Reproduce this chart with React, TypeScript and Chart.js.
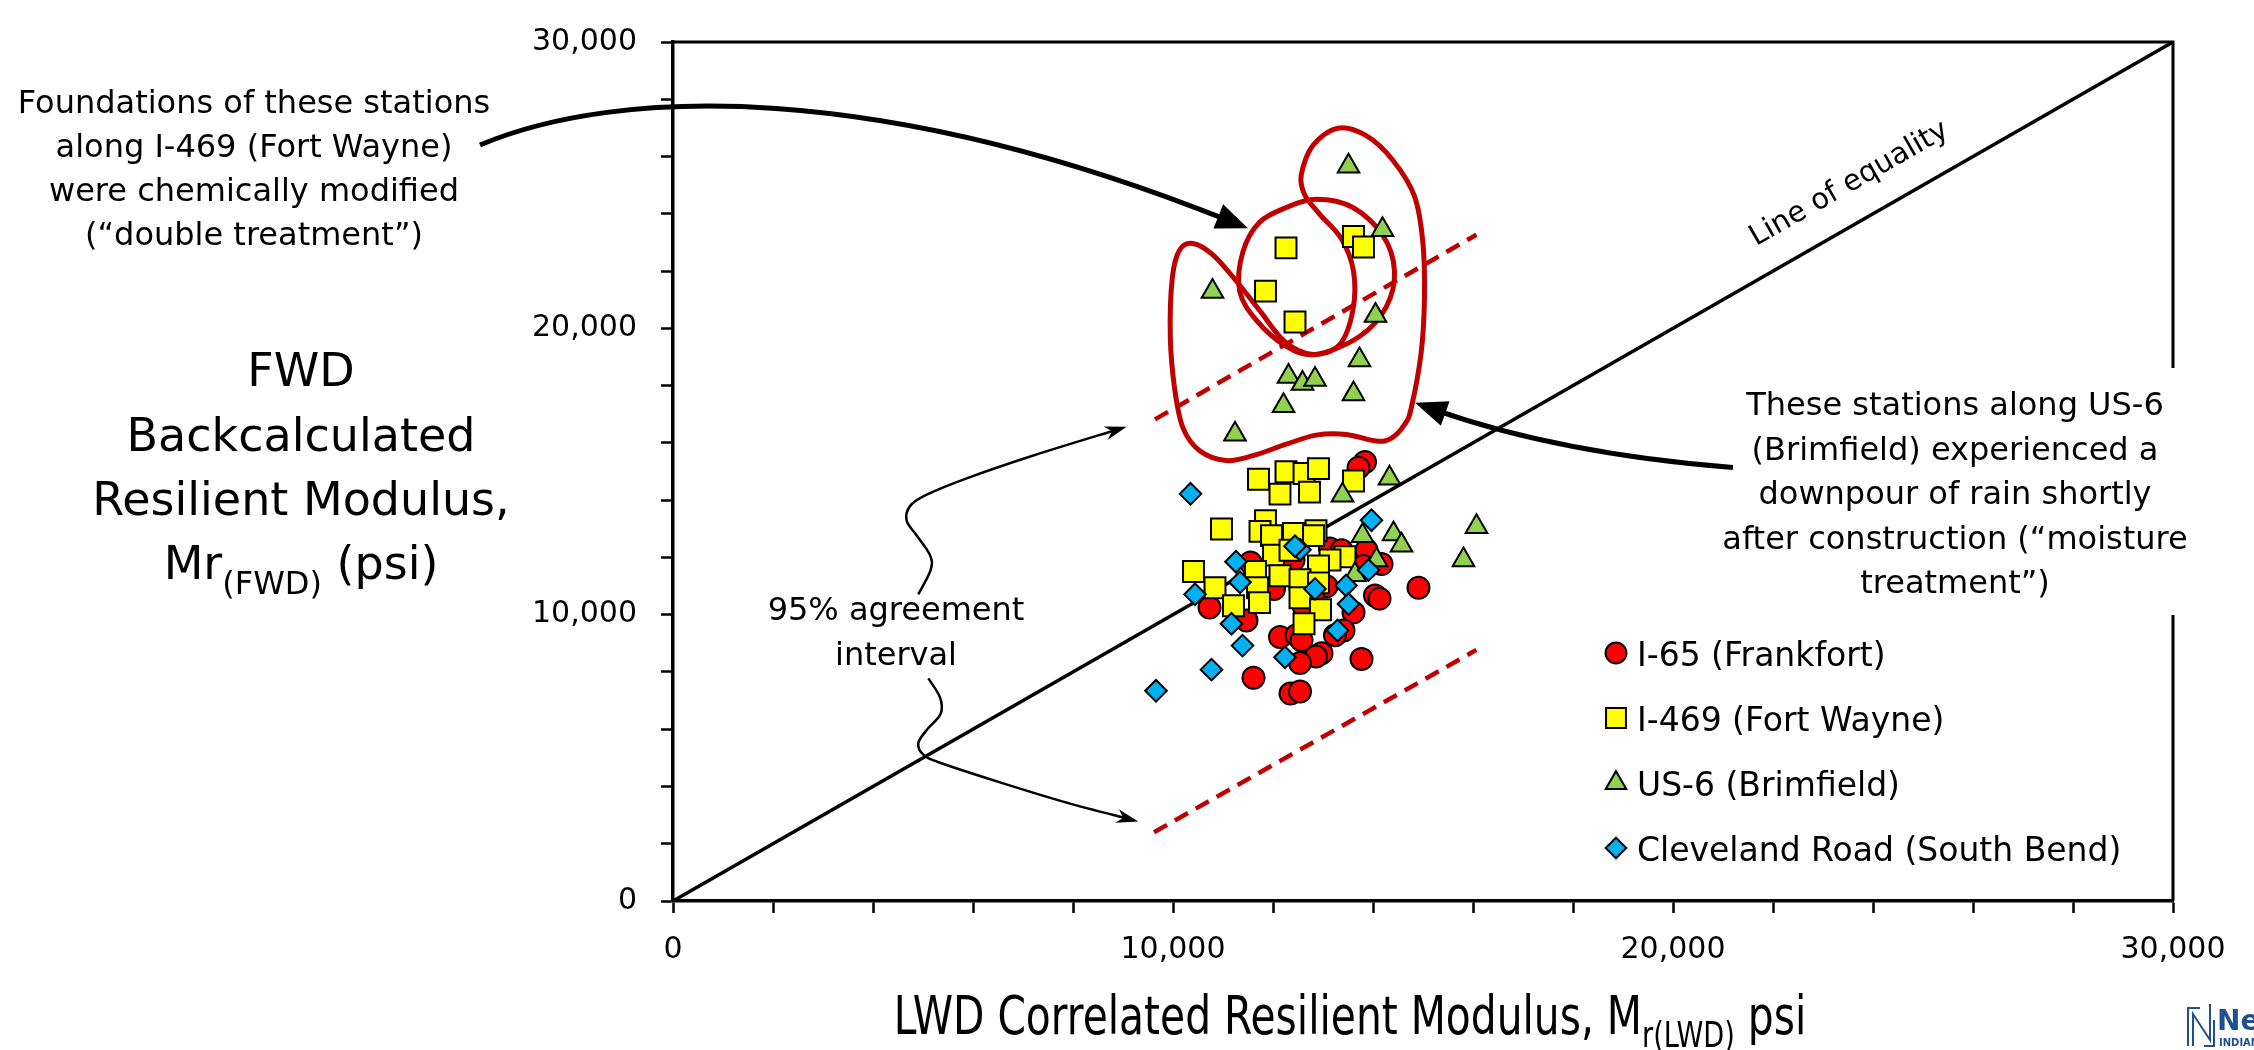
import React, { useEffect, useRef } from 'react';
import { Chart, registerables } from 'chart.js';

Chart.register(...registerables);

const W = 2254;
const H = 1050;
const FONT = '"DejaVu Sans", Verdana, sans-serif';

// ---------------- data (LWD x, FWD y) in psi ----------------
const i65Frankfort: [number, number][] = [
  [13840, 15330], [13710, 15130], [14910, 10940], [14040, 10670], [14130, 10560], [13610, 10080],
  [13410, 9450], [13240, 9280], [12140, 9220], [12470, 9280], [12570, 9110], [12970, 8650],
  [12860, 8540], [12540, 8310], [13770, 8450], [11610, 7800], [12350, 7250], [12540, 7320],
  [10730, 10250], [11470, 9800], [11550, 11820], [12020, 10900], [13070, 10990], [13140, 12310],
  [13370, 12250], [13870, 12250], [14170, 11770], [13810, 11700], [12610, 10310], [12410, 11910],
  [12810, 10770],
];

const i469FortWayne: [number, number][] = [
  [11710, 14730], [12260, 14990], [12620, 14930], [12910, 15100], [12140, 14210], [12730, 14280],
  [13610, 14670], [10970, 12990], [11850, 13280], [11740, 12910], [11970, 12760], [12410, 12840],
  [12860, 12930], [12810, 12760], [12010, 12080], [12340, 12250], [13440, 12020], [13140, 11910],
  [12910, 11700], [10410, 11510], [11650, 11510], [12140, 11360], [12540, 11220], [12910, 11110],
  [10840, 10940], [11690, 10940], [12540, 10590], [11730, 10420], [11210, 10310], [12950, 10170],
  [12620, 9680],
  [12260, 22810], [11850, 21300], [12440, 20220], [13610, 23210], [13810, 22840],
];

const us6Brimfield: [number, number][] = [
  [11240, 16300], [14330, 14760], [13390, 14170], [16070, 13070], [13790, 12760], [14410, 12820],
  [14570, 12420], [14070, 11910], [15810, 11910], [13640, 11390],
  [13510, 25660], [14190, 23440], [10790, 21290], [14050, 20450], [13730, 18890], [12310, 18320],
  [12590, 18070], [12840, 18210], [13610, 17710], [12210, 17300],
];

const clevelandRoad: [number, number][] = [
  [10350, 14220], [13970, 13300], [12540, 12270], [12440, 12390], [11260, 11850], [11340, 11130],
  [13910, 11560], [10440, 10710], [12840, 10900], [13460, 11020], [13510, 10370], [11170, 9680],
  [13290, 9450], [11390, 8920], [12240, 8510], [10770, 8080], [9660, 7340],
];

const equalityLine: [number, number][] = [[0, 0], [30000, 30000]];
const upper95: [number, number][] = [[9640, 16820], [16070, 23270]];
const lower95: [number, number][] = [[9620, 2400], [16070, 8770]];

const seriesLabels = ['I-65 (Frankfort)', 'I-469 (Fort Wayne)', 'US-6 (Brimfield)', 'Cleveland Road (South Bend)'];
const majorTickValues = [0, 10000, 20000, 30000];
const tickLabels = ['0', '10,000', '20,000', '30,000'];

// annotation outlines (in data units)
const doubleTreatmentLoop: [number, number][] = [
  [12265, 24219], [12864, 24504], [13597, 24219], [14197, 23250], [14430, 21995], [14263, 20741],
  [13730, 19715], [12864, 19088], [12265, 19372], [11665, 20285], [11332, 21311], [11399, 22680],
  [11732, 23706],
];
const moistureTreatmentLoop: [number, number][] = [
  [12565, 25359], [12798, 26386], [13297, 26990], [13864, 26728], [14397, 25872], [14829, 24618],
  [14996, 23022], [15029, 21083], [14963, 19145], [14763, 17206], [14630, 16636], [14363, 16157],
  [14063, 16066], [13464, 16294], [12864, 16271], [12265, 15952], [11599, 15552], [11066, 15382],
  [10533, 15724], [10200, 16522], [10033, 17890], [9946, 19715], [9986, 21767], [10133, 22737],
  [10399, 22964], [10799, 22566], [11265, 21653], [11732, 20627], [12231, 19544], [12798, 19088],
  [13331, 19430], [13597, 20627], [13610, 21995], [13364, 23136], [12931, 23990], [12631, 24675],
];
const foundationsArrow: [number, number][] = [[-3860, 26404], [-1060, 28459], [4140, 28630], [11500, 23493]];
const moistureArrow: [number, number][] = [[21200, 15137], [17740, 15617], [14840, 17397]];
const upperCurl: [number, number][] = [
  [4906, 10709], [5154, 11565], [5140, 12079], [4874, 12764], [4674, 13277], [4740, 13791],
  [5074, 14189], [5874, 14760], [7206, 15558], [9074, 16565],
];
const lowerCurl: [number, number][] = [
  [5106, 7774], [5340, 7113], [5354, 6541], [5074, 5969], [4906, 5514], [5006, 5113],
  [5340, 4829], [6540, 4144], [7874, 3435], [9306, 2774],
];

type P = [number, number];

const colors = ['#FF0000', '#FFFF00', '#92D050', '#00B0F0'];
const styles = ['circle', 'rect', 'triangle', 'rectRot'];
const radii = [11, 14.8, 12.5, 10.8];

function px(chart: any, p: P): P {
  return [chart.scales.x.getPixelForValue(p[0]), chart.scales.y.getPixelForValue(p[1])];
}

function closedSpline(ctx: CanvasRenderingContext2D, pts: P[]) {
  const n = pts.length;
  ctx.beginPath();
  ctx.moveTo(pts[0][0], pts[0][1]);
  for (let i = 0; i < n; i++) {
    const p0 = pts[(i - 1 + n) % n], p1 = pts[i], p2 = pts[(i + 1) % n], p3 = pts[(i + 2) % n];
    ctx.bezierCurveTo(
      p1[0] + (p2[0] - p0[0]) / 6, p1[1] + (p2[1] - p0[1]) / 6,
      p2[0] - (p3[0] - p1[0]) / 6, p2[1] - (p3[1] - p1[1]) / 6,
      p2[0], p2[1]);
  }
  ctx.closePath();
}

function openSpline(ctx: CanvasRenderingContext2D, pts: P[]) {
  const n = pts.length;
  ctx.beginPath();
  ctx.moveTo(pts[0][0], pts[0][1]);
  for (let i = 0; i < n - 1; i++) {
    const p0 = pts[Math.max(i - 1, 0)], p1 = pts[i], p2 = pts[i + 1], p3 = pts[Math.min(i + 2, n - 1)];
    ctx.bezierCurveTo(
      p1[0] + (p2[0] - p0[0]) / 6, p1[1] + (p2[1] - p0[1]) / 6,
      p2[0] - (p3[0] - p1[0]) / 6, p2[1] - (p3[1] - p1[1]) / 6,
      p2[0], p2[1]);
  }
}

function arrowHead(ctx: CanvasRenderingContext2D, tip: P, from: P, len: number, half: number, notch = 0) {
  const a = Math.atan2(tip[1] - from[1], tip[0] - from[0]);
  const c = Math.cos(a), s = Math.sin(a);
  const bx = tip[0] - len * c, by = tip[1] - len * s;
  ctx.beginPath();
  ctx.moveTo(tip[0], tip[1]);
  ctx.lineTo(bx + half * s, by - half * c);
  ctx.lineTo(tip[0] - len * (1 - notch) * c, tip[1] - len * (1 - notch) * s);
  ctx.lineTo(bx - half * s, by + half * c);
  ctx.closePath();
  ctx.fill();
}

function shorten(tip: P, from: P, d: number): P {
  const dx = tip[0] - from[0], dy = tip[1] - from[1];
  const L = Math.hypot(dx, dy);
  return [tip[0] - (dx / L) * d, tip[1] - (dy / L) * d];
}

function marker(ctx: CanvasRenderingContext2D, style: string, r: number, x: number, y: number) {
  ctx.beginPath();
  if (style === 'circle') {
    ctx.arc(x, y, r, 0, Math.PI * 2);
  } else if (style === 'rect') {
    const s = r * Math.SQRT1_2;
    ctx.rect(x - s, y - s, 2 * s, 2 * s);
  } else if (style === 'triangle') {
    ctx.moveTo(x, y - r);
    ctx.lineTo(x + r * 0.866, y + r * 0.5);
    ctx.lineTo(x - r * 0.866, y + r * 0.5);
    ctx.closePath();
  } else {
    ctx.moveTo(x - r, y);
    ctx.lineTo(x, y - r);
    ctx.lineTo(x + r, y);
    ctx.lineTo(x, y + r);
    ctx.closePath();
  }
  ctx.fill();
  ctx.stroke();
}

type Run = { t: string; size: number; dy?: number };
function drawRuns(ctx: CanvasRenderingContext2D, runs: Run[], cx: number, baseline: number, scaleX = 1) {
  let total = 0;
  const widths: number[] = [];
  for (const r of runs) {
    ctx.font = `${r.size}px ${FONT}`;
    const w = ctx.measureText(r.t).width;
    widths.push(w);
    total += w;
  }
  ctx.save();
  ctx.translate(cx, baseline);
  ctx.scale(scaleX, 1);
  ctx.textAlign = 'left';
  ctx.textBaseline = 'alphabetic';
  let x = -total / 2;
  runs.forEach((r, i) => {
    ctx.font = `${r.size}px ${FONT}`;
    ctx.fillText(r.t, x, r.dy || 0);
    x += widths[i];
  });
  ctx.restore();
}

function centeredLines(ctx: CanvasRenderingContext2D, lines: string[], cx: number, first: number, step: number, size: number) {
  ctx.font = `${size}px ${FONT}`;
  ctx.textAlign = 'center';
  ctx.textBaseline = 'alphabetic';
  lines.forEach((l, i) => ctx.fillText(l, cx, first + i * step));
}

const annotations = {
  id: 'annotations',
  beforeDatasetsDraw(chart: any) {
    const { ctx, chartArea: a } = chart;
    ctx.save();
    ctx.strokeStyle = '#000';
    ctx.lineWidth = 3;
    ctx.beginPath();
    ctx.moveTo(a.left, a.top);
    ctx.lineTo(a.right, a.top);
    ctx.lineTo(a.right, a.bottom);
    ctx.stroke();

    ctx.strokeStyle = '#C00000';
    ctx.lineWidth = 5;
    ctx.lineJoin = 'round';
    for (const loop of [doubleTreatmentLoop, moistureTreatmentLoop]) {
      closedSpline(ctx, loop.map((p) => px(chart, p)));
      ctx.stroke();
    }
    ctx.restore();
  },
  afterDraw(chart: any) {
    const ctx: CanvasRenderingContext2D = chart.ctx;
    ctx.save();
    ctx.fillStyle = '#000';
    ctx.strokeStyle = '#000';

    // thick arrow from "Foundations" text
    {
      const p = foundationsArrow.map((q) => px(chart, q));
      const tip = p[3];
      const end = shorten(tip, p[2], 22);
      ctx.lineWidth = 5;
      ctx.beginPath();
      ctx.moveTo(p[0][0], p[0][1]);
      ctx.bezierCurveTo(p[1][0], p[1][1], p[2][0], p[2][1], end[0], end[1]);
      ctx.stroke();
      arrowHead(ctx, tip, p[2], 32, 13);
    }
    // thick arrow from moisture text
    {
      const p = moistureArrow.map((q) => px(chart, q));
      const tip = p[2];
      const end = shorten(tip, p[1], 22);
      ctx.lineWidth = 5;
      ctx.beginPath();
      ctx.moveTo(p[0][0], p[0][1]);
      ctx.quadraticCurveTo(p[1][0], p[1][1], end[0], end[1]);
      ctx.stroke();
      arrowHead(ctx, tip, p[1], 32, 13);
    }
    // thin curly arrows
    for (const curl of [upperCurl, lowerCurl]) {
      const p = curl.map((q) => px(chart, q));
      const tip = p[p.length - 1];
      const prev = p[p.length - 2];
      const pts = p.slice(0, -1).concat([shorten(tip, prev, 12)]);
      ctx.lineWidth = 2.5;
      openSpline(ctx, pts);
      ctx.stroke();
      arrowHead(ctx, tip, prev, 22, 7, 0.3);
    }

    // Line of equality label
    {
      const o = px(chart, [0, 0]);
      const e = px(chart, [30000, 30000]);
      const c = px(chart, [23900, 23900]);
      const ang = Math.atan2(e[1] - o[1], e[0] - o[0]);
      ctx.save();
      ctx.translate(c[0], c[1]);
      ctx.rotate(ang);
      ctx.font = `29px ${FONT}`;
      ctx.textAlign = 'center';
      ctx.textBaseline = 'alphabetic';
      ctx.fillText('Line of equality', 0, -30);
      ctx.restore();
    }

    // text box (moisture treatment)
    ctx.fillStyle = '#fff';
    ctx.fillRect(1733, 368, 485, 247);
    ctx.fillStyle = '#000';
    centeredLines(ctx, [
      'These stations along US-6',
      '(Brimfield) experienced a',
      'downpour of rain shortly',
      'after construction (\u201cmoisture',
      'treatment\u201d)',
    ], 1955, 415, 44.5, 32);

    // Foundations text
    centeredLines(ctx, [
      'Foundations of these stations',
      'along I-469 (Fort Wayne)',
      'were chemically modified',
      '(\u201cdouble treatment\u201d)',
    ], 254, 113, 44, 32);

    // 95% agreement interval
    centeredLines(ctx, ['95% agreement', 'interval'], 896, 620, 45, 32);

    // y-axis title
    centeredLines(ctx, ['FWD', 'Backcalculated', 'Resilient Modulus,'], 301, 386, 64.5, 46);
    drawRuns(ctx, [
      { t: 'Mr', size: 46 },
      { t: '(FWD)', size: 32, dy: 15 },
      { t: ' (psi)', size: 46 },
    ], 301, 579);

    // x-axis title
    drawRuns(ctx, [
      { t: 'LWD Correlated Resilient Modulus, M', size: 54 },
      { t: 'r(LWD)', size: 36, dy: 13 },
      { t: ' psi', size: 54 },
    ], 1350, 1034, 0.755);

    // legend
    seriesLabels.forEach((label, i) => {
      const y = 653 + i * 65;
      ctx.fillStyle = colors[i];
      ctx.strokeStyle = '#000';
      ctx.lineWidth = 2;
      marker(ctx, styles[i], radii[i] * 0.95, 1616, y);
      ctx.fillStyle = '#000';
      ctx.font = `33px ${FONT}`;
      ctx.textAlign = 'left';
      ctx.textBaseline = 'alphabetic';
      ctx.fillText(label, 1637, y + 13);
    });

    // logo fragment bottom-right
    ctx.strokeStyle = '#1d4f91';
    ctx.lineWidth = 2;
    ctx.beginPath();
    ctx.moveTo(2188, 1046); ctx.lineTo(2188, 1008); ctx.lineTo(2200, 1008);
    ctx.moveTo(2193, 1046); ctx.lineTo(2193, 1014); ctx.lineTo(2210, 1040); ctx.lineTo(2210, 1004);
    ctx.moveTo(2204, 1046); ctx.lineTo(2214, 1046); ctx.lineTo(2214, 1020);
    ctx.stroke();
    ctx.fillStyle = '#1d4f91';
    ctx.font = `bold 28px ${FONT}`;
    ctx.fillText('NextLevel', 2217, 1030);
    ctx.font = `bold 10px ${FONT}`;
    ctx.fillText('INDIANA', 2219, 1046);

    ctx.restore();
  },
};

function scatterSet(i: number, pts: [number, number][], order: number) {
  return {
    label: seriesLabels[i],
    data: pts.map(([x, y]) => ({ x, y })),
    showLine: false,
    pointStyle: styles[i],
    pointRadius: radii[i],
    pointBackgroundColor: colors[i],
    pointBorderColor: '#000',
    pointBorderWidth: 2,
    backgroundColor: colors[i],
    borderColor: '#000',
    order,
  };
}

function lineSet(label: string, pts: [number, number][], color: string, width: number, dash: number[]) {
  return {
    label,
    data: pts.map(([x, y]) => ({ x, y })),
    showLine: true,
    borderColor: color,
    borderWidth: width,
    borderDash: dash,
    pointRadius: 0,
    fill: false,
    order: 10,
  };
}

const tickFormat = (v: any) => {
  const i = majorTickValues.indexOf(Number(v));
  return i >= 0 ? tickLabels[i] : '';
};

export default function App() {
  const ref = useRef<HTMLCanvasElement>(null);
  useEffect(() => {
    document.body.style.margin = '0';
    const canvas = ref.current;
    if (!canvas) return;
    const chart = new Chart(canvas, {
      type: 'scatter',
      data: {
        datasets: [
          scatterSet(3, clevelandRoad, 1),
          scatterSet(2, us6Brimfield, 2),
          scatterSet(1, i469FortWayne, 3),
          scatterSet(0, i65Frankfort, 4),
          lineSet('Line of equality', equalityLine, '#000', 3.5, []),
          lineSet('Upper 95% agreement limit', upper95, '#C00000', 4.5, [15, 9]),
          lineSet('Lower 95% agreement limit', lower95, '#C00000', 4.5, [15, 9]),
        ] as any,
      },
      options: {
        animation: false,
        responsive: false,
        devicePixelRatio: 1,
        events: [],
        layout: { padding: { left: 0, right: 81, top: 25, bottom: 0 } },
        plugins: {
          legend: { display: false },
          tooltip: { enabled: false },
          title: { display: false },
        },
        scales: {
          x: {
            type: 'linear',
            min: 0,
            max: 30000,
            afterFit: (s: any) => { s.height = 149; },
            ticks: {
              stepSize: 2000,
              autoSkip: false,
              maxRotation: 0,
              padding: 19,
              color: '#000',
              font: { family: FONT, size: 30 },
              callback: tickFormat,
            },
            grid: { drawOnChartArea: false, drawTicks: true, tickLength: 12, tickWidth: 2.5, tickColor: '#000', color: '#000' },
            border: { display: true, color: '#000', width: 3.5 },
          },
          y: {
            type: 'linear',
            min: 0,
            max: 30000,
            afterFit: (s: any) => { s.width = 673; },
            ticks: {
              stepSize: 2000,
              autoSkip: false,
              padding: 24,
              color: '#000',
              font: { family: FONT, size: 30 },
              callback: tickFormat,
            },
            grid: { drawOnChartArea: false, drawTicks: true, tickLength: 12, tickWidth: 2.5, tickColor: '#000', color: '#000' },
            border: { display: true, color: '#000', width: 3.5 },
          },
        },
      } as any,
      plugins: [annotations],
    });
    return () => chart.destroy();
  }, []);
  return (
    <div style={{ width: W, height: H, background: '#fff', overflow: 'hidden', position: 'relative' }}>
      <canvas ref={ref} width={W} height={H} style={{ display: 'block', width: W, height: H }} />
    </div>
  );
}
